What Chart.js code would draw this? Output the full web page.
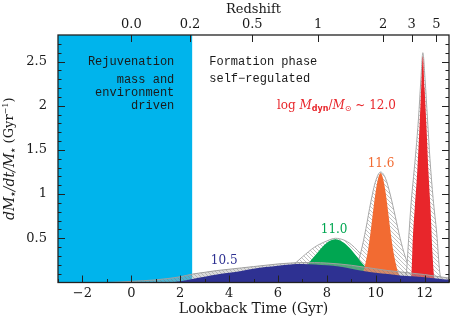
<!DOCTYPE html>
<html><head><meta charset="utf-8">
<script src="https://cdn.jsdelivr.net/npm/chart.js@4.4.0/dist/chart.umd.min.js"></script>
<style>html,body{margin:0;padding:0;background:#fff}</style>
</head><body>
<canvas id="c" width="457" height="319"></canvas>
<script>
// ---------------- data ----------------
const xTickValues = [-2, 0, 2, 4, 6, 8, 10, 12];
const yTickValues = [0.5, 1, 1.5, 2, 2.5];
const redshiftLabels = ['0.0', '0.2', '0.5', '1', '2', '3', '5'];
const redshiftLookback = [0, 2.4, 4.95, 7.65, 10.3, 11.47, 12.48];
const rejuvenationX = [-3, 2.5];
const rejuvenationY = [2.8, 2.8];

// log Mdyn = 10.5 (navy)
const navyX = [1.5, 2, 2.5, 3, 3.5, 4, 4.5, 5, 5.5, 6, 6.5, 7, 7.5, 8, 8.5, 9, 9.5, 10, 10.5, 11, 11.5, 12, 12.5, 13];
const navyY = [0, 0.015, 0.04, 0.065, 0.09, 0.11, 0.13, 0.155, 0.175, 0.19, 0.205, 0.21, 0.205, 0.195, 0.18, 0.155, 0.13, 0.11, 0.095, 0.08, 0.07, 0.06, 0.045, 0.03];
const navyBandX = [-1, -0.5, 0, 0.5, 1, 1.5, 2, 2.5, 3, 3.5, 4, 4.5, 5, 5.5, 6, 6.5, 7, 7.5, 8, 8.5, 9, 9.5, 10, 10.5, 11, 11.5, 12, 12.5, 13];
const navyBandY = [0, 0.005, 0.012, 0.02, 0.03, 0.045, 0.065, 0.095, 0.115, 0.135, 0.15, 0.165, 0.18, 0.195, 0.21, 0.22, 0.225, 0.225, 0.22, 0.21, 0.195, 0.175, 0.155, 0.135, 0.12, 0.105, 0.09, 0.07, 0.05];

// log Mdyn = 11.0 (green)
const greenX = [6.0, 6.5, 7.0, 7.5, 8.0, 8.35, 8.7, 9.0, 9.5, 10.0, 10.5, 11.0];
const greenY = [0.01, 0.05, 0.14, 0.30, 0.45, 0.49, 0.45, 0.37, 0.2, 0.08, 0.02, 0.0];
const greenBandX = [5.0, 5.5, 6.0, 6.5, 7.0, 7.5, 8.0, 8.35, 8.7, 9.0, 9.5, 10.0, 10.5, 11.0, 11.5];
const greenBandY = [0.0, 0.03, 0.08, 0.17, 0.29, 0.40, 0.47, 0.50, 0.48, 0.43, 0.29, 0.15, 0.06, 0.02, 0];

// log Mdyn = 11.6 (orange)
const orangeX = [9.2, 9.4, 9.5, 9.6, 9.7, 9.8, 9.9, 10.0, 10.1, 10.2, 10.3, 10.4, 10.5, 10.6, 10.7, 10.8, 10.9, 11.0, 11.2];
const orangeY = [0.01, 0.07, 0.13, 0.24, 0.39, 0.59, 0.82, 1.03, 1.18, 1.24, 1.18, 1.03, 0.82, 0.59, 0.39, 0.24, 0.13, 0.07, 0.01];
const orangeBandX = [8.8, 9.0, 9.2, 9.4, 9.6, 9.8, 10.0, 10.2, 10.4, 10.6, 10.8, 11.0, 11.2, 11.4, 11.6, 11.8, 12.0];
const orangeBandY = [0.025, 0.07, 0.17, 0.35, 0.61, 0.91, 1.15, 1.25, 1.18, 0.99, 0.75, 0.5, 0.3, 0.16, 0.075, 0.03, 0.01];

// log Mdyn = 12.0 (red)
const redX = [11.35, 11.45, 11.52, 11.6, 11.7, 11.8, 11.87, 11.93, 12.0, 12.08, 12.16, 12.25, 12.32, 12.4, 12.5];
const redY = [0, 0.05, 0.5, 0.85, 1.25, 1.8, 2.25, 2.56, 2.2, 1.75, 1.25, 0.8, 0.35, 0.05, 0];
const redBandX = [11.1, 11.25, 11.35, 11.45, 11.55, 11.65, 11.75, 11.85, 11.93, 12.02, 12.12, 12.22, 12.35, 12.5, 12.62, 12.75];
const redBandY = [0, 0.1, 0.5, 0.9, 1.2, 1.5, 1.85, 2.3, 2.6, 2.3, 1.85, 1.4, 0.95, 0.55, 0.12, 0];

// ---------------- styling ----------------
const SERIF = '"DejaVu Serif", serif';
const MONO = '"Liberation Mono", monospace';
const C_CYAN = '#00b4ec', C_NAVY = '#2e3192', C_GREEN = '#00a651', C_ORANGE = '#f26b32', C_RED = '#e8262b';

const canvas = document.getElementById('c');
const mainCtx = canvas.getContext('2d');
function hatch(bg, fg) {
  const c = document.createElement('canvas'); c.width = 4; c.height = 4;
  const g = c.getContext('2d');
  if (bg) { g.fillStyle = bg; g.fillRect(0, 0, 4, 4); }
  g.strokeStyle = fg; g.lineWidth = 0.8;
  g.beginPath();
  g.moveTo(0, 0); g.lineTo(4, 4);
  g.moveTo(-1, 3); g.lineTo(1, 5);
  g.moveTo(3, -1); g.lineTo(5, 1);
  g.stroke();
  return mainCtx.createPattern(c, 'repeat');
}
const hatchWhite = hatch('#ffffff', '#b2b2b2');
const hatchClear = hatch('rgba(175,175,175,0.45)', 'rgba(120,120,120,0.5)');

function pts(xs, ys) { return xs.map((x, i) => ({ x: x, y: ys[i] })); }
function ds(label, xs, ys, bg, border, bw, order) {
  return { label, data: pts(xs, ys), fill: 'origin', backgroundColor: bg, borderColor: border,
    borderWidth: bw, pointRadius: 0, cubicInterpolationMode: 'monotone', order };
}

function drawRich(ctx, parts, x, y, align) {
  let w = 0;
  parts.forEach(p => { ctx.font = p.font; p.w = ctx.measureText(p.t).width; w += p.w; });
  let cx = align === 'center' ? x - w / 2 : (align === 'right' ? x - w : x);
  ctx.textAlign = 'left';
  parts.forEach(p => { ctx.font = p.font; ctx.fillText(p.t, cx, y + (p.dy || 0)); cx += p.w; });
}

const decorPlugin = {
  id: 'decor',
  afterDraw(chart) {
    const { ctx, chartArea: a, scales } = chart;
    const X = scales.x, Y = scales.y, X2 = scales.x2;
    ctx.save();
    ctx.textBaseline = 'middle';
    const px = v => X.getPixelForValue(v), py = v => Y.getPixelForValue(v);
    ctx.fillStyle = '#1a1a1a';
    ctx.font = '12px ' + MONO;
    ctx.textAlign = 'right';
    ctx.fillText('Rejuvenation', px(1.76), py(2.5));
    ctx.fillText('mass and', px(1.76), py(2.29));
    ctx.fillText('environment', px(1.76), py(2.145));
    ctx.fillText('driven', px(1.76), py(1.995));
    ctx.textAlign = 'left';
    ctx.fillText('Formation phase', px(3.19), py(2.5));
    ctx.fillText('self\u2212regulated', px(3.19), py(2.3));

    ctx.textAlign = 'center';
    ctx.font = '12px ' + SERIF;
    ctx.fillStyle = C_NAVY; ctx.fillText('10.5', px(3.8), py(0.25));
    ctx.fillStyle = C_GREEN; ctx.fillText('11.0', px(8.3), py(0.6));
    ctx.fillStyle = C_ORANGE; ctx.fillText('11.6', px(10.22), py(1.34));
    ctx.fillStyle = C_RED;
    drawRich(ctx, [
      { t: 'log ', font: '12px ' + SERIF },
      { t: 'M', font: 'italic 12px ' + SERIF },
      { t: 'dyn', font: 'bold 8px "DejaVu Sans"', dy: 3 },
      { t: '/', font: '12px ' + SERIF },
      { t: 'M', font: 'italic 12px ' + SERIF },
      { t: '\u2299', font: '8px "DejaVu Sans"', dy: 3 },
      { t: ' ~ 12.0', font: '12px ' + SERIF }
    ], px(5.96), py(2.0), 'left');

    ctx.save();
    ctx.translate(10, (a.top + a.bottom) / 2);
    ctx.rotate(-Math.PI / 2);
    ctx.fillStyle = '#1a1a1a';
    drawRich(ctx, [
      { t: 'dM', font: 'italic 14px ' + SERIF },
      { t: '\u2605', font: '6px "DejaVu Sans"', dy: 3 },
      { t: '/dt/M', font: 'italic 14px ' + SERIF },
      { t: '\u2605', font: '6px "DejaVu Sans"', dy: 3 },
      { t: ' (Gyr', font: '13px ' + SERIF },
      { t: '\u22121', font: '8px ' + SERIF, dy: -4 },
      { t: ')', font: '13px ' + SERIF }
    ], 0, 0, 'center');
    ctx.restore();

    ctx.strokeStyle = '#222'; ctx.lineWidth = 1;
    ctx.beginPath();
    for (let v = -3; v <= 13; v++) {
      const p = Math.round(X.getPixelForValue(v)) + 0.5;
      const L = (v % 2 === 0) ? 7 : 3.5;
      ctx.moveTo(p, a.bottom); ctx.lineTo(p, a.bottom - L);
    }
    for (let k = 1; k < 28; k++) {
      const v = k / 10;
      const p = Math.round(Y.getPixelForValue(v)) + 0.5;
      const L = (k % 5 === 0) ? 7 : 3.5;
      ctx.moveTo(a.left, p); ctx.lineTo(a.left + L, p);
      ctx.moveTo(a.right, p); ctx.lineTo(a.right - L, p);
    }
    redshiftLookback.forEach(v => {
      const p = Math.round(X2.getPixelForValue(v)) + 0.5;
      ctx.moveTo(p, a.top); ctx.lineTo(p, a.top + 7);
    });
    ctx.stroke();
    ctx.lineWidth = 1.3;
    ctx.strokeRect(a.left, a.top, a.right - a.left, a.bottom - a.top);
    ctx.restore();
  }
};

const tickFont = { family: SERIF, size: 13 };
new Chart(canvas, {
  type: 'line',
  data: {
    datasets: [
      ds('rejuvenation', rejuvenationX, rejuvenationY, C_CYAN, C_CYAN, 0, 9),
      ds('green band', greenBandX, greenBandY, hatchWhite, '#a8a8a8', 1, 8),
      ds('orange band', orangeBandX, orangeBandY, hatchWhite, '#a8a8a8', 1, 7),
      ds('red band', redBandX, redBandY, hatchWhite, '#a8a8a8', 1, 6),
      ds('11.0', greenX, greenY, C_GREEN, C_GREEN, 0, 5),
      ds('11.6', orangeX, orangeY, C_ORANGE, C_ORANGE, 0, 4),
      ds('12.0', redX, redY, C_RED, C_RED, 0, 3),
      ds('navy band', navyBandX, navyBandY, hatchClear, '#a0a0a0', 1, 2),
      ds('10.5', navyX, navyY, C_NAVY, C_NAVY, 0, 1)
    ]
  },
  options: {
    responsive: false, animation: false, devicePixelRatio: 1,
    layout: { padding: { left: 0, right: 8, top: 0, bottom: 0 } },
    plugins: { legend: { display: false }, tooltip: { enabled: false } },
    elements: { line: { tension: 0 } },
    scales: {
      x: {
        type: 'linear', position: 'bottom', min: -3, max: 13,
        grid: { display: false, drawTicks: false }, border: { display: false },
        ticks: { font: tickFont, color: '#1a1a1a', padding: 3, autoSkip: false, maxRotation: 0,
          callback: v => (v < 0 ? '\u2212' + Math.abs(v) : String(v)) },
        afterBuildTicks: s => { s.ticks = xTickValues.map(v => ({ value: v })); },
        title: { display: true, text: 'Lookback Time (Gyr)', font: { family: SERIF, size: 14 }, color: '#1a1a1a', padding: { top: 0, bottom: 1 } },
        afterFit: s => { s.height = 36.5; }
      },
      x2: {
        type: 'linear', position: 'top', min: -3, max: 13,
        grid: { display: false, drawTicks: false }, border: { display: false },
        ticks: { font: tickFont, color: '#1a1a1a', padding: 3, autoSkip: false, maxRotation: 0,
          callback: (v, i) => redshiftLabels[i] },
        afterBuildTicks: s => { s.ticks = redshiftLookback.map(v => ({ value: v })); },
        title: { display: true, text: 'Redshift', font: { family: SERIF, size: 13 }, color: '#1a1a1a', padding: { top: 2, bottom: 0 } },
        afterFit: s => { s.height = 35; }
      },
      y: {
        type: 'linear', position: 'left', min: 0, max: 2.8,
        grid: { display: false, drawTicks: false }, border: { display: false },
        ticks: { font: tickFont, color: '#1a1a1a', padding: 11, callback: v => String(v) },
        afterBuildTicks: s => { s.ticks = yTickValues.map(v => ({ value: v })); },
        afterFit: s => { s.width = 58; }
      }
    }
  },
  plugins: [decorPlugin]
});
</script>
</body></html>
